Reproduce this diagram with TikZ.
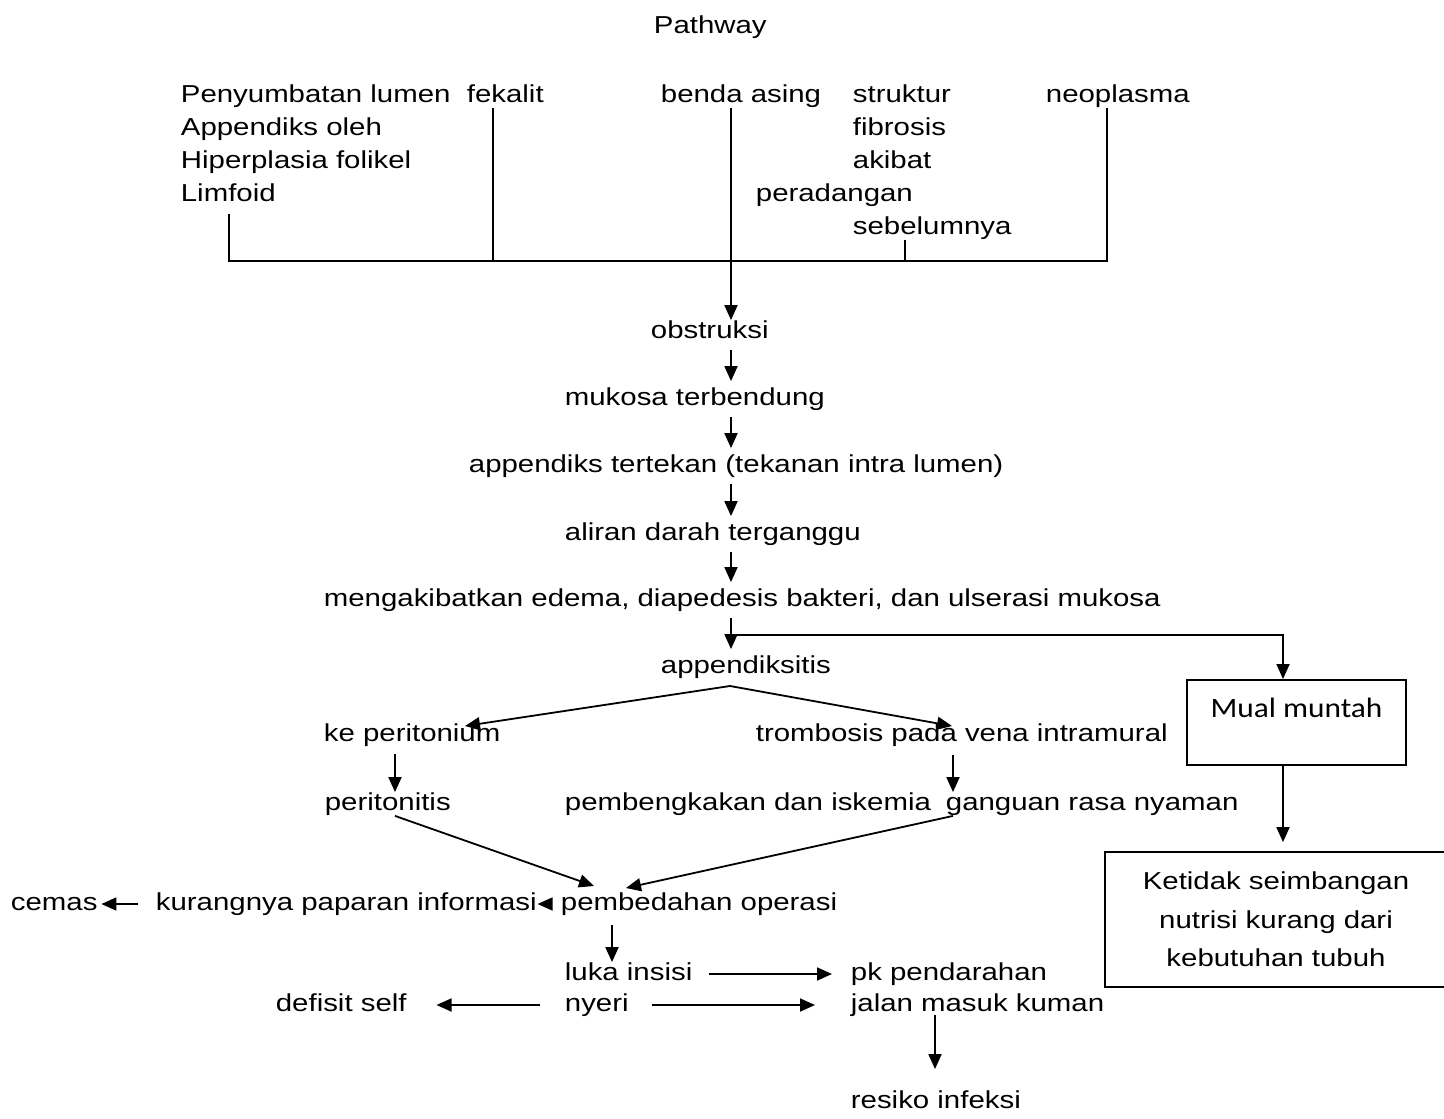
\documentclass[tikz,border=0pt]{standalone}
\usepackage{fontspec}
\setmainfont{Liberation Sans}[FakeStretch=1.2]
\newfontfamily\boxfont{Carlito}[FakeStretch=1.12]
\usetikzlibrary{arrows.meta}

\begin{document}
\begin{tikzpicture}[x=1pt,y=-1pt,line width=1.8pt,
    >={Triangle[length=15pt,width=13pt]},
    txt/.style={anchor=base west,inner sep=0pt,text height=17pt,text depth=5pt,font=\fontsize{24.5}{33}\selectfont},
    flow/.style={->,shorten <=6pt,shorten >=6pt}]
    \useasboundingbox (0,0) rectangle (1444,1119);
    \node[txt] (title) at (653,33) {Pathway};
    \node[txt] (pen) at (180,102) {Penyumbatan lumen};
    \node[txt] (app) at (180,135) {Appendiks oleh};
    \node[txt] (hip) at (180,168) {Hiperplasia folikel};
    \node[txt] (lim) at (180,201) {Limfoid};
    \node[txt] (fek) at (466,102) {fekalit};
    \node[txt] (benda) at (660,102) {benda asing};
    \node[txt] (str) at (852,102) {struktur};
    \node[txt] (fib) at (852,135) {fibrosis};
    \node[txt] (akb) at (852,168) {akibat};
    \node[txt] (per) at (755,201) {peradangan};
    \node[txt] (seb) at (852,234) {sebelumnya};
    \node[txt] (neo) at (1045,102) {neoplasma};
    \node[txt] (obs) at (650,338) {obstruksi};
    \node[txt] (muk) at (564,405) {mukosa terbendung};
    \node[txt] (tek) at (468,472) {appendiks tertekan (tekanan intra lumen)};
    \node[txt] (ali) at (564,540) {aliran darah terganggu};
    \node[txt] (meng) at (323,606) {mengakibatkan edema, diapedesis bakteri, dan ulserasi mukosa};
    \node[txt] (apx) at (660,673) {appendiksitis};
    \node[txt] (kep) at (323,741) {ke peritonium};
    \node[txt] (tro) at (755,741) {trombosis pada vena intramural};
    \node[txt] (pto) at (324,810) {peritonitis};
    \node[txt] (pemb) at (564,810) {pembengkakan dan iskemia};
    \node[txt] (gan) at (945,810) {ganguan rasa nyaman};
    \node[txt] (bed) at (560,910) {pembedahan operasi};
    \node[txt] (kur) at (155,910) {kurangnya paparan informasi};
    \node[txt] (cem) at (10,910) {cemas};
    \node[txt] (luka) at (564,980) {luka insisi};
    \node[txt] (pkp) at (850,980) {pk pendarahan};
    \node[txt] (nye) at (564,1011) {nyeri};
    \node[txt] (jal) at (850,1011) {jalan masuk kuman};
    \node[txt] (def) at (275,1011) {defisit self};
    \node[txt] (res) at (850,1108) {resiko infeksi};
    \node[draw,anchor=north,inner sep=0pt,minimum width=219pt,text height=38pt,text depth=47pt,
        font=\boxfont\fontsize{28}{34}\selectfont] (mual) at (1296.5,679) {Mual muntah};
    \node[draw,inner sep=0pt,minimum width=342pt,minimum height=135pt,align=center,
        font=\fontsize{24.5}{38.5}\selectfont] (ket) at (1276,919.5) {Ketidak seimbangan\\nutrisi kurang dari\\kebutuhan tubuh};

    \coordinate (barL) at (229,261);
    \coordinate (barR) at (1107,261);
    \coordinate (cF) at (493,261);
    \coordinate (cB) at (731,261);
    \coordinate (cS) at (905,261);
    \draw[shorten <=7pt] (barL |- lim.south) -- (barL) -- (barR) -- (barR |- neo.south);
    \draw (cF |- fek.south) -- (cF);
    \draw (cS |- seb.south) -- (cS);
    \draw[->] (cB |- benda.south) -- (cB |- obs.north);
    \draw[flow] (cB |- obs.south) -- (cB |- muk.north);
    \draw[flow] (cB |- muk.south) -- (cB |- tek.north);
    \draw[flow] (cB |- tek.south) -- (cB |- ali.north);
    \draw[flow] (cB |- ali.south) -- (cB |- meng.north);
    \draw[flow] (cB |- meng.south) -- (cB |- apx.north);

    \coordinate (split) at (731,635);
    \coordinate (turn) at (1283,635);
    \draw[->] (split) -- (turn) -- (turn |- mual.north);
    \draw[->,shorten >=9pt] (turn |- mual.south) -- (turn |- ket.north);

    \coordinate (fork) at (730,686);
    \coordinate (kepIn) at (465,726);
    \coordinate (troIn) at (952,726);
    \draw[<->] (kepIn) -- (fork) -- (troIn);
    \coordinate (pL) at (395,754);
    \coordinate (pR) at (953,755);
    \draw[->] (pL) -- (pL |- pto.north);
    \draw[->] (pR) -- (pR |- gan.north);
    \coordinate (bedL) at (594,886);
    \coordinate (bedR) at (626,888);
    \draw[->] (pL |- pto.south) -- (bedL);
    \draw[->] (pR |- gan.south) -- (bedR);

    \draw[->,shorten <=10pt] (bed.west) -- (kur.east);
    \draw[->,shorten <=17pt,shorten >=3pt] (kur.west) -- (cem.east);
    \coordinate (b1) at (612,925);
    \draw[->] (b1) -- (b1 |- luka.north);
    \draw[->,shorten <=16pt,shorten >=18pt] (luka.east) -- (pkp.west);
    \draw[->,shorten <=22pt,shorten >=35pt] (nye.east) -- (jal.west);
    \draw[->,shorten <=24pt,shorten >=29pt] (nye.west) -- (def.east);
    \coordinate (jr) at (935,1015);
    \draw[->,shorten >=21pt] (jr) -- (jr |- res.north);
\end{tikzpicture}
\end{document}
